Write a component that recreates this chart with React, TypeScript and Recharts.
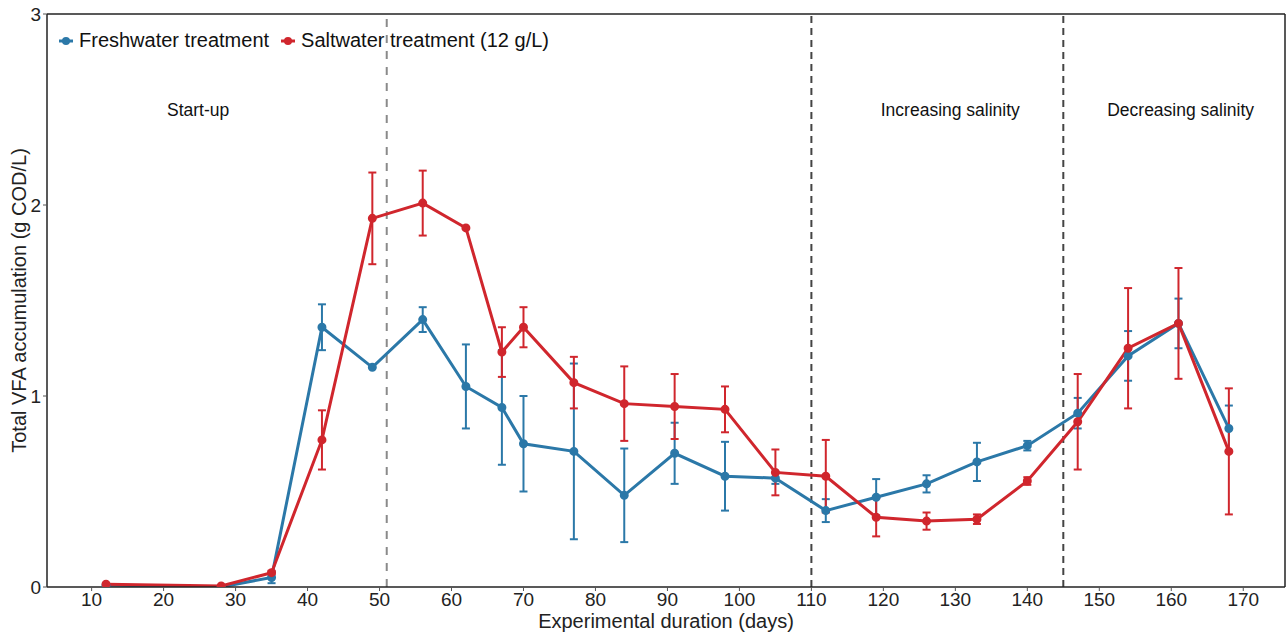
import {
  LineChart,
  Line,
  XAxis,
  YAxis,
  ErrorBar,
  ReferenceLine,
  ReferenceDot,
  Legend,
} from 'recharts';

// sampling days
const days = [12, 28, 35, 42, 49, 56, 62, 67, 70, 77, 84, 91, 98, 105, 112, 119, 126, 133, 140, 147, 154, 161, 168];

// total VFA accumulation (g COD/L)
const fresh = [0.01, 0.0, 0.05, 1.36, 1.15, 1.4, 1.05, 0.94, 0.75, 0.71, 0.48, 0.7, 0.58, 0.57, 0.4, 0.47, 0.54, 0.655, 0.74, 0.91, 1.21, 1.38, 0.83];
const freshErr = [0, 0, 0.03, 0.12, 0, 0.065, 0.22, 0.3, 0.25, 0.46, 0.245, 0.16, 0.18, 0.03, 0.06, 0.095, 0.045, 0.1, 0.025, 0.08, 0.13, 0.13, 0.12];
const salt = [0.015, 0.005, 0.075, 0.77, 1.93, 2.01, 1.88, 1.23, 1.36, 1.07, 0.96, 0.945, 0.93, 0.6, 0.58, 0.365, 0.345, 0.355, 0.555, 0.865, 1.25, 1.38, 0.71];
const saltErr = [0, 0, 0.01, 0.155, 0.24, 0.17, 0, 0.13, 0.105, 0.135, 0.195, 0.17, 0.12, 0.12, 0.19, 0.1, 0.045, 0.025, 0.02, 0.25, 0.315, 0.29, 0.33];

const xTicks = [10, 20, 30, 40, 50, 60, 70, 80, 90, 100, 110, 120, 130, 140, 150, 160, 170];
const yTicks = [0, 1, 2, 3];
const phaseLines = [51, 110, 145];
const phaseLabels = [
  { day: 24.8, text: 'Start-up' },
  { day: 129.3, text: 'Increasing salinity' },
  { day: 161.3, text: 'Decreasing salinity' },
];

const X_MIN = 3.8;
const X_MAX = 175.8;
const BLUE = '#2b78a8';
const RED = '#d0262d';
const FONT = '"Liberation Sans", Arial, sans-serif';

const rows = days.map((d, i) => ({
  day: d,
  fresh: fresh[i],
  freshErr: freshErr[i],
  salt: salt[i],
  saltErr: saltErr[i],
}));

function LegendBox({ payload }: any) {
  return (
    <div style={{ display: 'flex', alignItems: 'center', fontFamily: FONT, fontSize: 20, color: '#111', whiteSpace: 'nowrap' }}>
      {(payload || []).map((p: any) => (
        <span key={p.value} style={{ display: 'flex', alignItems: 'center', marginRight: 10 }}>
          <svg width={18} height={10} style={{ marginRight: 4 }}>
            <line x1={2} y1={5} x2={16} y2={5} stroke={p.color} strokeWidth={3} />
            <circle cx={9} cy={5} r={4} fill={p.color} />
          </svg>
          {p.value}
        </span>
      ))}
    </div>
  );
}

export default function App() {
  return (
    <div style={{ position: 'absolute', left: 0, top: 0, background: '#fff' }}>
      <LineChart
        width={1287}
        height={637}
        data={rows}
        margin={{ top: 14, right: 2, left: 0, bottom: 0 }}
        style={{ fontFamily: FONT }}
      >
        <XAxis
          dataKey="day"
          type="number"
          domain={[X_MIN, X_MAX]}
          ticks={xTicks}
          allowDataOverflow
          height={50}
          tick={{ fontSize: 19, fill: '#222' }}
          tickLine={{ stroke: '#555' }}
          tickSize={4}
          axisLine={{ stroke: '#222', strokeWidth: 1.5 }}
          label={{ value: 'Experimental duration (days)', position: 'insideBottom', offset: 9, fontSize: 20, fill: '#222' }}
        />
        <YAxis
          type="number"
          domain={[0, 3]}
          ticks={yTicks}
          allowDataOverflow
          width={47}
          tick={{ fontSize: 19, fill: '#222' }}
          tickLine={{ stroke: '#555' }}
          tickSize={4}
          axisLine={{ stroke: '#222', strokeWidth: 1.5 }}
          label={{ value: 'Total VFA accumulation (g COD/L)', angle: -90, position: 'insideLeft', offset: 19, style: { textAnchor: 'middle', fontSize: 20, fill: '#222' } }}
        />
        <ReferenceLine y={3} stroke="#222" strokeWidth={1.5} />
        <ReferenceLine x={X_MAX} stroke="#222" strokeWidth={1.5} />
        {phaseLines.map((d, i) => (
          <ReferenceLine
            key={d}
            x={d}
            stroke={i === 0 ? '#8a8a8a' : '#444'}
            strokeWidth={2}
            strokeDasharray={i === 0 ? '8 8' : '7 5'}
          />
        ))}
        {phaseLabels.map((p) => (
          <ReferenceDot
            key={p.text}
            x={p.day}
            y={2.5}
            r={0}
            fill="none"
            stroke="none"
            label={{ value: p.text, position: 'center', fontSize: 17.5, fill: '#111' }}
          />
        ))}
        <Legend
          verticalAlign="middle"
          align="center"
          layout="horizontal"
          wrapperStyle={{ top: 29, left: 57, width: 'auto' }}
          content={<LegendBox />}
        />
        <Line
          dataKey="fresh"
          name="Freshwater treatment"
          stroke={BLUE}
          strokeWidth={3}
          dot={{ r: 3, fill: BLUE, stroke: BLUE }}
          isAnimationActive={false}
        >
          <ErrorBar dataKey="freshErr" direction="y" width={4} stroke={BLUE} strokeWidth={2} />
        </Line>
        <Line
          dataKey="salt"
          name="Saltwater treatment (12 g/L)"
          stroke={RED}
          strokeWidth={3}
          dot={{ r: 3, fill: RED, stroke: RED }}
          isAnimationActive={false}
        >
          <ErrorBar dataKey="saltErr" direction="y" width={4} stroke={RED} strokeWidth={2} />
        </Line>
      </LineChart>
    </div>
  );
}
